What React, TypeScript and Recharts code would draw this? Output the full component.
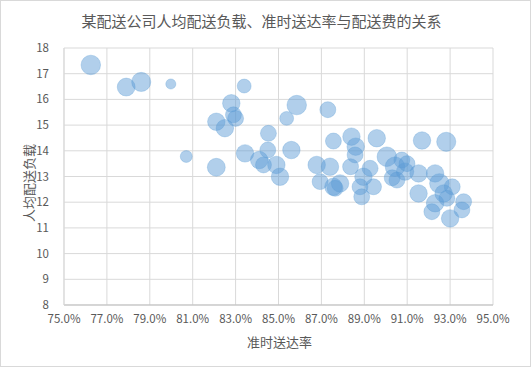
import React from "react";
import { ScatterChart, Scatter, XAxis, YAxis, ZAxis, CartesianGrid } from "recharts";

const onTimeRate = [
  76.25, 77.9, 78.6, 79.98, 80.7, 82.1, 83.4, 82.1, 82.8, 82.9, 83.0, 82.5,
  85.85, 87.3, 85.38, 84.53, 83.44, 84.5, 85.6, 84.1, 84.3, 84.9, 85.07, 86.78,
  87.4, 86.94, 87.56, 87.56, 88.4, 88.6, 88.57, 89.58, 90.05, 90.75, 91.69, 92.82,
  87.87, 87.64, 88.96, 88.8, 88.88, 89.27, 90.43, 90.9, 90.99, 91.53, 90.52, 92.3,
  91.53, 92.5, 93.1, 92.7, 92.3, 93.0, 93.63, 93.55, 92.85, 88.36, 90.3, 92.15, 89.43,
];
const loadPerPerson = [
  17.34, 16.48, 16.68, 16.6, 13.78, 13.36, 16.52, 15.13, 15.85, 15.4, 15.26, 14.88,
  15.78, 15.6, 15.26, 14.68, 13.9, 14.03, 14.03, 13.64, 13.45, 13.45, 12.99, 13.45,
  13.38, 12.8, 12.6, 14.38, 14.55, 14.16, 13.84, 14.49, 13.77, 13.64, 14.4, 14.35,
  12.73, 12.54, 12.99, 12.6, 12.21, 13.32, 13.38, 13.19, 13.5, 13.12, 12.86, 13.12,
  12.34, 12.73, 12.6, 12.34, 11.96, 11.37, 12.02, 11.7, 12.15, 13.38, 12.95, 11.63, 12.6,
];
const deliveryFee = [
  7.5, 6.3, 7.2, 2.0, 2.8, 6.3, 3.8, 6.0, 6.0, 5.0, 5.0, 6.0,
  7.5, 5.0, 3.8, 5.0, 6.0, 5.0, 6.0, 6.0, 5.0, 6.0, 6.0, 6.0,
  6.0, 5.0, 6.0, 5.0, 6.0, 6.0, 5.0, 6.0, 7.5, 5.0, 6.0, 7.2,
  6.0, 5.0, 6.0, 5.0, 5.0, 5.0, 7.5, 6.0, 5.0, 6.0, 5.0, 6.0,
  6.0, 7.5, 5.0, 6.0, 6.0, 6.0, 5.0, 5.0, 5.0, 5.0, 5.0, 5.0, 5.0,
];
const xTicks = [75, 77, 79, 81, 83, 85, 87, 89, 91, 93, 95];
const yTicks = [8, 9, 10, 11, 12, 13, 14, 15, 16, 17, 18];

const title = "某配送公司人均配送负载、准时送达率与配送费的关系";
const xTitle = "准时送达率";
const yTitle = "人均配送负载";

const data = onTimeRate.map((x, i) => ({ x, y: loadPerPerson[i], z: deliveryFee[i] }));

const FONT = '"Noto Sans CJK SC", "Microsoft YaHei", sans-serif';
const TEXT = "#595959";

export default function App() {
  return (
    <div
      style={{
        position: "absolute",
        left: 0,
        top: 0,
        width: 531,
        height: 367,
        background: "#fff",
        boxSizing: "border-box",
        border: "1px solid #d9d9d9",
        fontFamily: FONT,
      }}
    >
      <div
        style={{
          position: "absolute",
          left: 0,
          top: 10,
          width: 521,
          textAlign: "center",
          fontSize: 15,
          color: TEXT,
          lineHeight: "20px",
        }}
      >
        {title}
      </div>
      <div
        style={{
          position: "absolute",
          left: 246,
          top: 332,
          fontSize: 13,
          color: TEXT,
          lineHeight: "18px",
          whiteSpace: "nowrap",
        }}
      >
        {xTitle}
      </div>
      <div
        style={{
          position: "absolute",
          left: 28,
          top: 182,
          width: 0,
          height: 0,
        }}
      >
        <div
          style={{
            position: "absolute",
            left: 0,
            top: 0,
            fontSize: 13,
            color: TEXT,
            lineHeight: "16px",
            whiteSpace: "nowrap",
            transform: "translate(-50%, -50%) rotate(-90deg)",
          }}
        >
          {yTitle}
        </div>
      </div>
      <div style={{ position: "absolute", left: -1, top: -1 }}>
        <ScatterChart width={531} height={367} margin={{ top: 48, right: 38, left: 0, bottom: 0 }}>
          <CartesianGrid stroke="#d9d9d9" strokeWidth={1} />
          <XAxis
            type="number"
            dataKey="x"
            domain={[75, 95]}
            ticks={xTicks}
            interval={0}
            height={62}
            tickFormatter={(v: number) => `${v.toFixed(1)}%`}
            tick={{ fill: TEXT, fontSize: 11.5, fontFamily: FONT }}
            tickLine={false}
            tickSize={0}
            tickMargin={10}
            axisLine={{ stroke: "#bfbfbf" }}
            allowDataOverflow
          />
          <YAxis
            type="number"
            dataKey="y"
            domain={[8, 18]}
            ticks={yTicks}
            interval={0}
            width={64}
            tick={{ fill: TEXT, fontSize: 11.5, fontFamily: FONT }}
            tickLine={false}
            tickSize={0}
            tickMargin={15}
            axisLine={{ stroke: "#d9d9d9" }}
            allowDataOverflow
          />
          <ZAxis type="number" dataKey="z" domain={[0, 10]} range={[0, 400]} />
          <Scatter
            data={data}
            fill="#5B9BD5"
            fillOpacity={0.48}
            stroke="#5B9BD5"
            strokeOpacity={0.3}
            strokeWidth={1}
            isAnimationActive={false}
          />
        </ScatterChart>
      </div>
    </div>
  );
}
